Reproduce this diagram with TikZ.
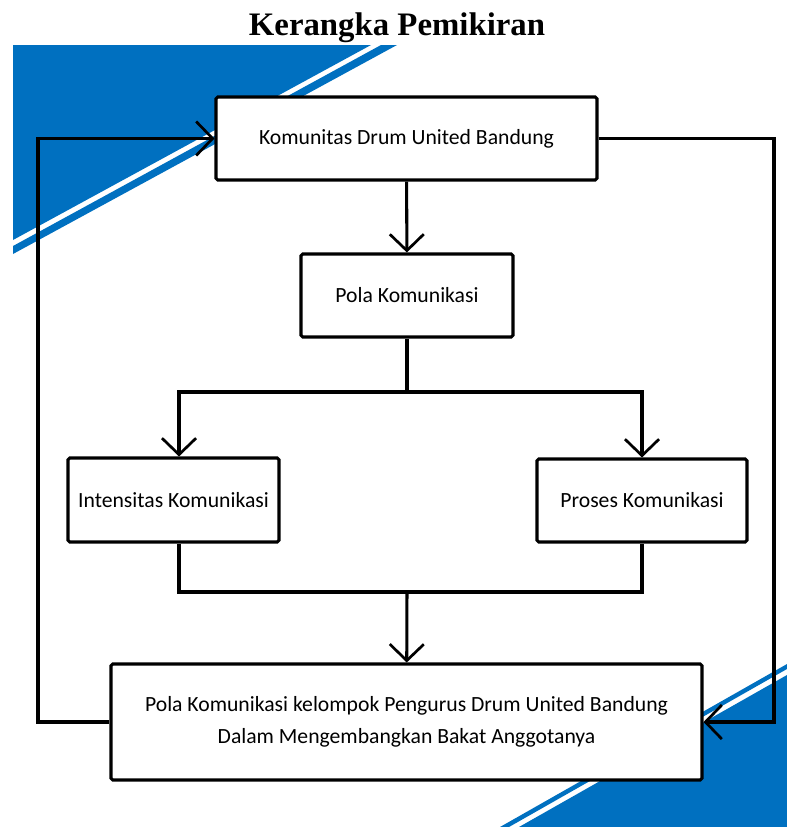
\documentclass[tikz,border=0pt]{standalone}
\usepackage{fontspec}
\setmainfont{Carlito}
\newfontfamily\titlefont{Liberation Serif}
\usetikzlibrary{arrows.meta}
\definecolor{cornerblue}{RGB}{0,112,192}
\tikzset{
  box/.style={draw, line width=2.6pt, fill=white, rounded corners=1.5pt, inner sep=0pt, align=center, font=\fontsize{18.5}{27}\selectfont},
  flow/.style={line width=2.6pt, -{Straight Barb[length=14pt, width=29pt, line width=2.3pt]}},
  link/.style={line width=2.6pt}
}
\begin{document}
\begin{tikzpicture}[x=0.03cm, y=-0.03cm]
            \useasboundingbox (0,0) rectangle (787,827);
            % corner decoration
            \fill [cornerblue] (13,45) -- (371,45) -- (13,240) -- cycle;
            \fill [cornerblue] (381,45) -- (397,45) -- (13,254) -- (13,246) -- cycle;
            \fill [cornerblue] (787,675) -- (787,827) -- (519,827) -- cycle;
            \fill [cornerblue] (787,664) -- (787,669) -- (509,827) -- (500,827) -- cycle;
            \node [font=\titlefont\bfseries\fontsize{28}{34}\selectfont] (title) at (397,28) {Kerangka Pemikiran};
            % boxes
            \node [box, minimum width=381*0.03cm, minimum height=83*0.03cm] (komunitas) at (406.5,138.5) {Komunitas Drum United Bandung};
            \node [box, minimum width=212*0.03cm, minimum height=83*0.03cm] (pola) at (407,295.5) {Pola Komunikasi};
            \node [box, minimum width=211*0.03cm, minimum height=84*0.03cm] (intensitas) at (173.5,500) {Intensitas Komunikasi};
            \node [box, minimum width=210*0.03cm, minimum height=83*0.03cm] (proses) at (642,500.5) {Proses Komunikasi};
            \node [box, minimum width=591*0.03cm, minimum height=116*0.03cm] (hasil) at (406.5,722) {Pola Komunikasi kelompok Pengurus Drum United Bandung\\Dalam Mengembangkan Bakat Anggotanya};
            \coordinate (split) at (407,392);
            \coordinate (join) at (407,592);
            \coordinate (leftrail) at (38,0);
            \coordinate (rightrail) at (774,0);
            % connectors
            \draw [flow] (komunitas) -- (pola);
            \draw [link] (pola) -- (split);
            \draw [flow] (split) -| ([xshift=5.5*0.03cm]intensitas.north);
            \draw [flow] (split) -| (proses.north);
            \draw [link] ([xshift=5.5*0.03cm]intensitas.south) |- (join) -| (proses.south);
            \draw [flow] (join) -- (hasil);
            \draw [flow] (hasil.west) -- (hasil.west -| leftrail) |- (komunitas.west);
            \draw [flow] (komunitas.east) -- (komunitas.east -| rightrail) |- (hasil.east);
        \end{tikzpicture}
\end{document}
